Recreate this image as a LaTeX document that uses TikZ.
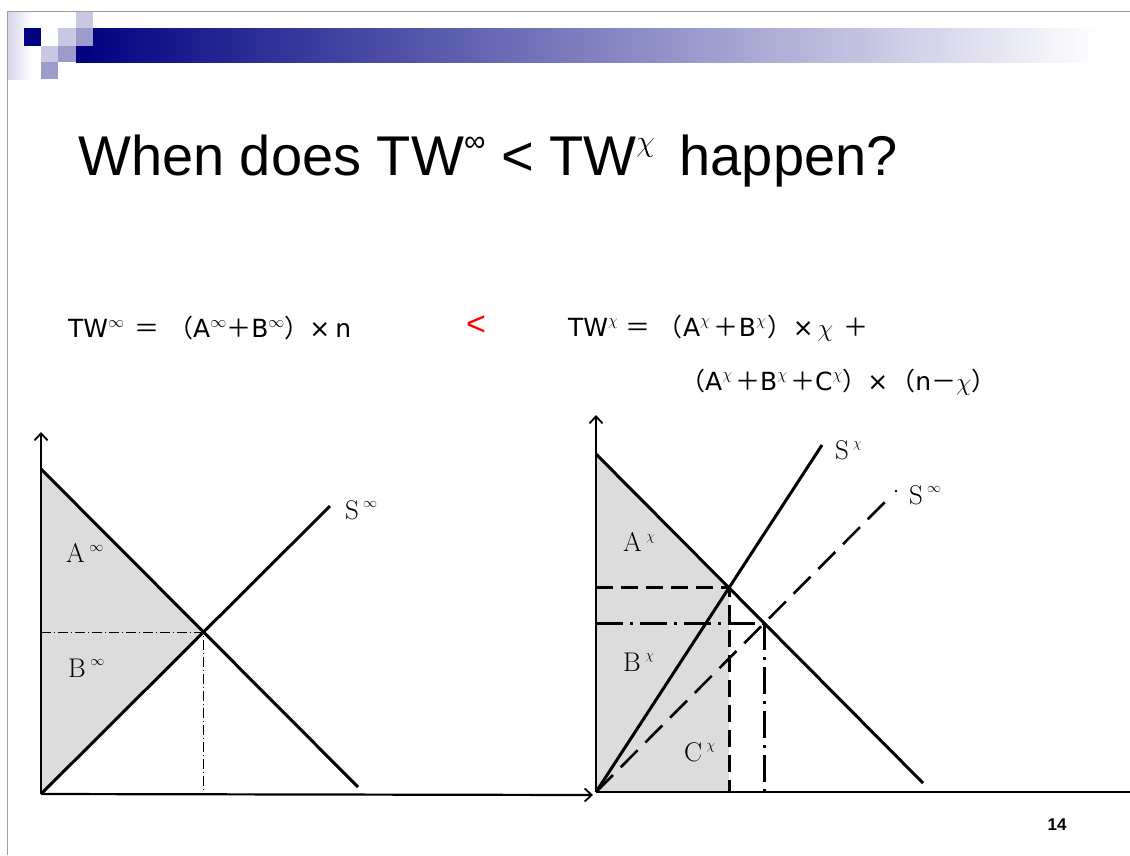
\documentclass[tikz,border=0pt]{standalone}
\usepackage{fix-cm}
\usepackage{fontspec}
\newfontfamily\titlefont{Liberation Sans}
\newfontfamily\jpfont{Noto Sans CJK JP}
\newfontfamily\dvfont{DejaVu Sans}
\usetikzlibrary{arrows.meta}
\definecolor{navy}{HTML}{000080}
\definecolor{sqlight}{HTML}{C8C8E4}
\definecolor{sqmed}{HTML}{9C9CCC}
\definecolor{areagray}{HTML}{DCDCDC}
\definecolor{framegray}{HTML}{A0A0A0}
\newcommand\tsup[1]{\raisebox{0.42em}{\fontsize{30}{30}\selectfont #1}}
\newcommand\jsup[1]{\raisebox{0.42em}{\fontsize{16}{16}\selectfont$#1$}}
\newcommand\gsup[1]{\raisebox{0.42em}{\fontsize{14}{14}\selectfont$#1$}}
\newcommand\fw[1]{{\jpfont #1}}
\tikzset{
  axis/.style={line width=2.2pt,-{Straight Barb[length=7pt,width=13pt,line width=1.8pt]}},
  curve/.style={line width=3pt},
  thinguide/.style={line width=0.9pt,dash pattern=on 10pt off 3pt on 1pt off 3pt},
  dashguide/.style={line width=3pt,dash pattern=on 17pt off 8pt},
  dotguide/.style={line width=3pt,dash pattern=on 27pt off 7pt on 3pt off 7pt},
  longdash/.style={line width=2.6pt,dash pattern=on 24pt off 11pt},
  lab/.style={anchor=west,inner sep=0pt,font=\fontsize{27}{30}\selectfont},
  formula/.style={anchor=west,inner sep=0pt,font=\dvfont\fontsize{25}{28}\selectfont},
}
\begin{document}
\begin{tikzpicture}[x=1pt,y=-1pt]
\useasboundingbox (0,0) rectangle (1130,855);
\fill[white] (0,0) rectangle (1130,855);
% slide frame and header
\shade[left color=sqlight!80, right color=white] (7,11.5) rectangle (32,79);
\draw[framegray,line width=1pt] (7,855) -- (7,11) -- (1130,11);
\shade[left color=navy, right color=white] (76,28) rectangle (1100,62);
\fill[navy] (24,28) rectangle (41,46);
\fill[sqlight] (58,28) rectangle (76,46);
\fill[sqmed] (76,28) rectangle (93,46);
\fill[sqlight] (76,11.5) rectangle (93,28);
\fill[sqlight] (41,46) rectangle (58,62);
\fill[sqmed] (58,46) rectangle (76,62);
\fill[sqmed] (41,62) rectangle (58,79);
% title
\node[anchor=base west,inner sep=0pt,font=\titlefont\fontsize{56}{60}\selectfont] (title) at (78,175)
  {When does TW\tsup{∞} < TW\tsup{$\chi$}\, happen?};
% formulas
\node[formula] (f1) at (68,328)
  {TW\jsup{\infty}\hspace{10pt}\fw{＝}\hspace{9pt}\fw{（}A\jsup{\infty}\fw{＋}B\jsup{\infty}\fw{）}×\hspace{5pt}n};
\node[anchor=center,inner sep=0pt,text=red,font=\titlefont\fontsize{34}{34}\selectfont] (lt) at (476,326) {<};
\node[formula] (f2) at (568,328)
  {TW\jsup{\chi}\hspace{7pt}\fw{＝}\hspace{8pt}\fw{（}A\jsup{\chi}\hspace{4pt}\fw{＋}B\jsup{\chi}\hspace{2pt}\fw{）}×\hspace{4pt}$\chi$\hspace{10pt}\fw{＋}};
\node[formula] (f3) at (680,382)
  {\fw{（}A\jsup{\chi}\hspace{3pt}\fw{＋}B\jsup{\chi}\hspace{3pt}\fw{＋}C\jsup{\chi}\fw{）}×\hspace{2pt}\fw{（}n\fw{－}$\chi$\fw{）}};
% ---------- left graph ----------
\coordinate (O1) at (41,794);
\coordinate (Y1) at (41,432);
\coordinate (X1) at (593,795);
\coordinate (D1a) at (41,469);
\coordinate (D1b) at (358,787);
\coordinate (S1b) at (330,506);
\coordinate (E1) at (intersection of D1a--D1b and O1--S1b);
\fill[areagray] (D1a) -- (E1) -- (O1) -- cycle;
\draw[thinguide] (O1 |- E1) -- (E1) -- (E1 |- O1);
\draw[curve] (D1a) -- (D1b);
\draw[curve] (O1) -- (S1b);
\draw[axis] (O1) -- (Y1);
\draw[axis] (O1) -- (X1);
\node[lab] (A1) at (66,553) {A\,\gsup{\infty}};
\node[lab] (B1) at (68,668) {B\,\gsup{\infty}};
\node[lab] (S1) at (345,510) {S\hspace{4pt}\gsup{\infty}};
% ---------- right graph ----------
\coordinate (O2) at (596,792);
\coordinate (Y2) at (596,415);
\coordinate (X2) at (1130,792);
\coordinate (D2a) at (596,454);
\coordinate (D2b) at (923,783);
\coordinate (Sc) at (822,445);
\coordinate (Si) at (887,500);
\coordinate (Sdot) at (896,491);
\coordinate (Ec) at (intersection of D2a--D2b and O2--Sc);
\coordinate (Ei) at (intersection of D2a--D2b and O2--Si);
\fill[areagray] (D2a) -- (Ec) -- (Ec |- O2) -- (O2) -- cycle;
\draw[dashguide] (O2 |- Ec) -- (Ec) -- (Ec |- O2);
\draw[dotguide] (O2 |- Ei) -- (Ei);
\draw[dotguide] (Ei) -- (Ei |- O2);
\draw[curve] (D2a) -- (D2b);
\draw[curve] (O2) -- (Sc);
\draw[longdash] (O2) -- (Si);
\fill (Sdot) circle (1.3pt);
\draw[axis] (O2) -- (Y2);
\draw[line width=2.2pt] (O2) -- (X2);
\node[lab] (A2) at (623,542) {A\,\gsup{\chi}};
\node[lab] (B2) at (623,662) {B\,\gsup{\chi}};
\node[lab] (C2) at (684,752) {C\,\gsup{\chi}};
\node[lab] (S2) at (835,450) {S\hspace{4pt}\gsup{\chi}};
\node[lab] (S3) at (909,495) {S\hspace{4pt}\gsup{\infty}};
% page number
\node[inner sep=0pt,font=\titlefont\bfseries\fontsize{17}{17}\selectfont] (pg) at (1057,825) {14};
\end{tikzpicture}
\end{document}
